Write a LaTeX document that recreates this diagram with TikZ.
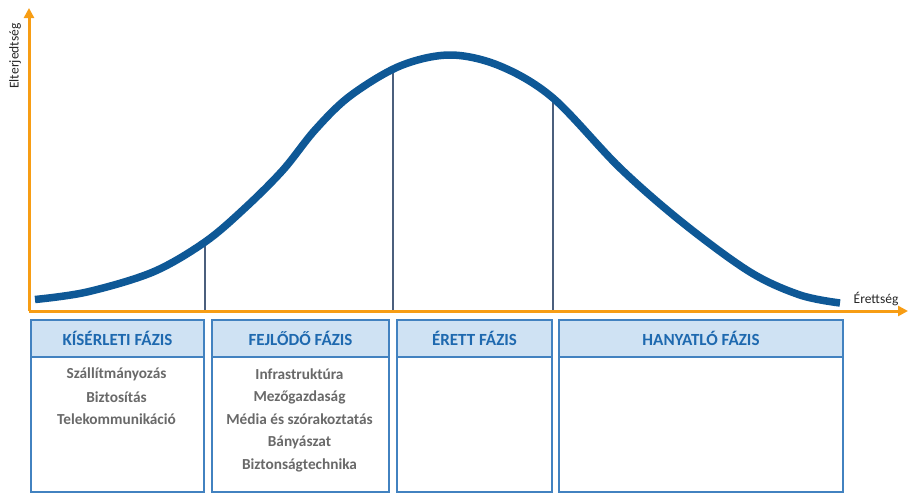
\documentclass[tikz,border=0pt]{standalone}
\usepackage{fontspec}
\setmainfont{Carlito}
\usetikzlibrary{arrows.meta}
\definecolor{axisor}{RGB}{247,157,20}
\definecolor{curveblue}{RGB}{14,88,150}
\definecolor{boxborder}{RGB}{66,130,192}
\definecolor{headfill}{RGB}{207,226,243}
\definecolor{headtext}{RGB}{30,105,175}
\definecolor{bodytext}{RGB}{105,105,105}
\definecolor{vline}{RGB}{75,95,125}
\tikzset{
  axisline/.style={draw=axisor, line width=3pt, -{Triangle[length=10pt,width=10pt]}},
  headbox/.style={draw=boxborder, line width=2pt, fill=headfill, anchor=north west, inner sep=0pt,
     text=headtext, font=\fontsize{17}{19}\selectfont\bfseries},
  bodybox/.style={draw=boxborder, line width=2pt, fill=white, anchor=north west, inner sep=0pt},
  item/.style={text=bodytext, font=\fontsize{15.3}{17}\selectfont\bfseries, inner sep=0pt},
  phaseline/.style={draw=vline, line width=1.3pt},
  axlabel/.style={font=\fontsize{13.5}{15}\selectfont, text=black!85, inner sep=0pt}
}
\begin{document}
\begin{tikzpicture}[x=1pt,y=-1pt]
\useasboundingbox (0,0) rectangle (908,493);
% axes
\coordinate (orig) at (29,311);
\coordinate (ytop) at (29,8);
\coordinate (xend) at (908,311);
\draw[axisline] (orig) -- (ytop);
\draw[axisline] (orig) -- (xend);
\node[axlabel, rotate=90] (ylab) at (15,56) {Elterjedtség};
\node[axlabel] (xlab) at (876,299) {Érettség};
% phase lines
\coordinate (c1) at (205,243);
\coordinate (c2) at (393,68);
\coordinate (c3) at (553,98);
\coordinate (b1) at (205,310);
\coordinate (b2) at (393,310);
\coordinate (b3) at (553,310);
\draw[phaseline] (c1) -- (b1);
\draw[phaseline] (c2) -- (b2);
\draw[phaseline] (c3) -- (b3);
% curve
\draw[curveblue, line width=7.5pt, line cap=butt] plot[smooth, tension=0.55] coordinates {
 (35,299.5) (87,292) (153,272) (205,242) (245,208) (283,170) (315,130) (350,96) (400,66) (450,55) (500,66) (553,98)
 (620,168) (683,223) (750,272) (800,295) (840,303)};
% boxes
\node[bodybox, minimum width=173pt, minimum height=172pt] (body1) at (30,319) {};
\node[headbox, minimum width=173pt, minimum height=37pt] (head1) at (30,319) {KÍSÉRLETI FÁZIS};
\node[bodybox, minimum width=177pt, minimum height=172pt] (body2) at (211,319) {};
\node[headbox, minimum width=177pt, minimum height=37pt] (head2) at (211,319) {FEJLŐDŐ FÁZIS};
\node[bodybox, minimum width=155pt, minimum height=172pt] (body3) at (396,319) {};
\node[headbox, minimum width=155pt, minimum height=37pt] (head3) at (396,319) {ÉRETT FÁZIS};
\node[bodybox, minimum width=284pt, minimum height=172pt] (body4) at (558,319) {};
\node[headbox, minimum width=284pt, minimum height=37pt] (head4) at (558,319) {HANYATLÓ FÁZIS};
% items
\node[item] (i11) at (116.5,374) {Szállítmányozás};
\node[item] (i12) at (116.5,397) {Biztosítás};
\node[item] (i13) at (116.5,419) {Telekommunikáció};
\node[item] (i21) at (299.5,374) {Infrastruktúra};
\node[item] (i22) at (299.5,397) {Mezőgazdaság};
\node[item] (i23) at (299.5,419) {Média és szórakoztatás};
\node[item] (i24) at (299.5,442) {Bányászat};
\node[item] (i25) at (299.5,465) {Biztonságtechnika};
\end{tikzpicture}
\end{document}
